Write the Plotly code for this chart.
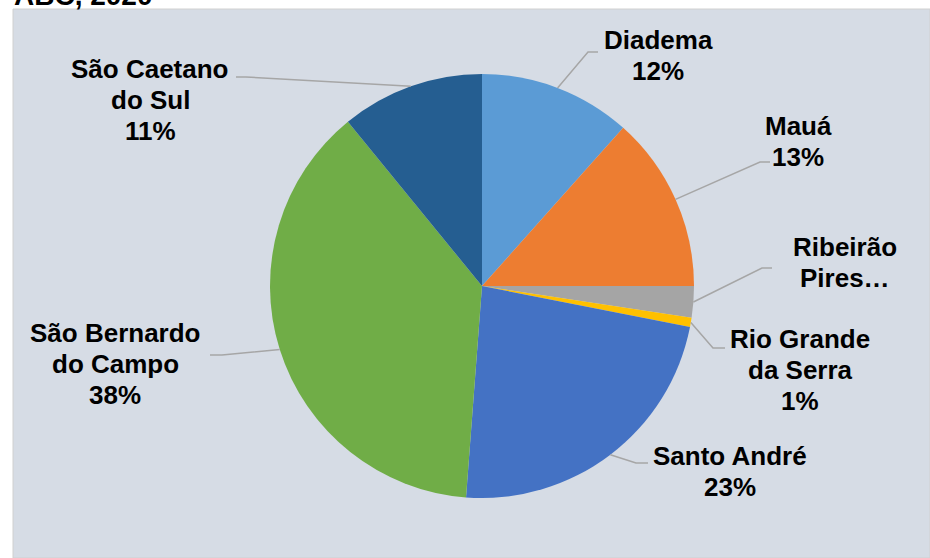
import math
import plotly.graph_objects as go

# ---- data ----
labels = ["Diadema", "Mauá", "Ribeirão Pires", "Rio Grande da Serra",
          "Santo André", "São Bernardo do Campo", "São Caetano do Sul"]
values = [11.6, 13.4, 2.4, 0.7, 23.1, 37.9, 10.9]
colors = ["#5B9BD5", "#ED7D31", "#A5A5A5", "#FFC000",
          "#4472C4", "#70AD47", "#255E91"]
label_lines = [["Diadema", "12%"], ["Mauá", "13%"], ["Ribeirão", "Pires…"],
               ["Rio Grande", "da Serra", "1%"], ["Santo André", "23%"],
               ["São Bernardo", "do Campo", "38%"], ["São Caetano", "do Sul", "11%"]]
title_text = "ABC, 2020"

# ---- layout geometry (pixels) ----
W, H = 930, 558
CX, CY, R = 482, 286, 212
label_pos = [(658, 40), (798, 126), (845, 247), (800, 339), (730, 456), (115, 333), (150, 69)]
line_gap = 31
leader_pts = [  # (elbow, end) near label
    ((588, 52), (598, 52)),
    ((760, 162), (770, 162)),
    ((762, 268), (772, 268)),
    ((713, 348), (725, 348)),
    ((636, 463), (648, 463)),
    ((222, 355), (210, 355)),
    ((246, 77), (236, 77)),
]

def px(x):
    return x / W

def py(y):
    return 1 - y / H

fig = go.Figure()
fig.add_trace(go.Pie(
    labels=labels, values=values, sort=False, direction="clockwise", rotation=0,
    marker=dict(colors=colors, line=dict(width=0)),
    textinfo="none", hoverinfo="label+percent", showlegend=False,
    domain=dict(x=[px(CX - R), px(CX + R)], y=[py(CY + R), py(CY - R)]),
))

shapes = [dict(type="rect", xref="paper", yref="paper", x0=px(13), x1=1.0, y0=0, y1=py(9),
               fillcolor="#D6DCE5", line=dict(color="#D0D0D0", width=1), layer="below")]

annotations = []
total = sum(values)
cum = 0.0
for i, v in enumerate(values):
    mid = (cum + v / 2) / total * 2 * math.pi
    cum += v
    sx = CX + R * math.sin(mid)
    sy = CY - R * math.cos(mid)
    (ex, ey), (fx, fy) = leader_pts[i]
    path = f"M {px(sx)},{py(sy)} L {px(ex)},{py(ey)} L {px(fx)},{py(fy)}"
    shapes.append(dict(type="path", xref="paper", yref="paper", path=path,
                       line=dict(color="#A6A6A6", width=1.5)))
    lx, ly = label_pos[i]
    for j, t in enumerate(label_lines[i]):
        annotations.append(dict(
            text=f"<b>{t}</b>", x=px(lx), y=py(ly + j * line_gap), xref="paper", yref="paper",
            xanchor="center", yanchor="middle", showarrow=False,
            font=dict(family="Liberation Sans, Arial, sans-serif", size=26, color="#000000")))

annotations.append(dict(
    text=f"<b>{title_text}</b>", x=px(12), y=py(-5), xref="paper", yref="paper",
    xanchor="left", yanchor="middle", showarrow=False,
    font=dict(family="Liberation Sans, Arial, sans-serif", size=28, color="#000000")))

fig.update_layout(
    width=W, height=H, margin=dict(l=0, r=0, t=0, b=0),
    paper_bgcolor="#FFFFFF", plot_bgcolor="#FFFFFF",
    shapes=shapes, annotations=annotations,
)

fig.write_html("out.html", config={"displayModeBar": False},
               post_script="document.body.style.margin='0';document.body.style.overflow='hidden';")
